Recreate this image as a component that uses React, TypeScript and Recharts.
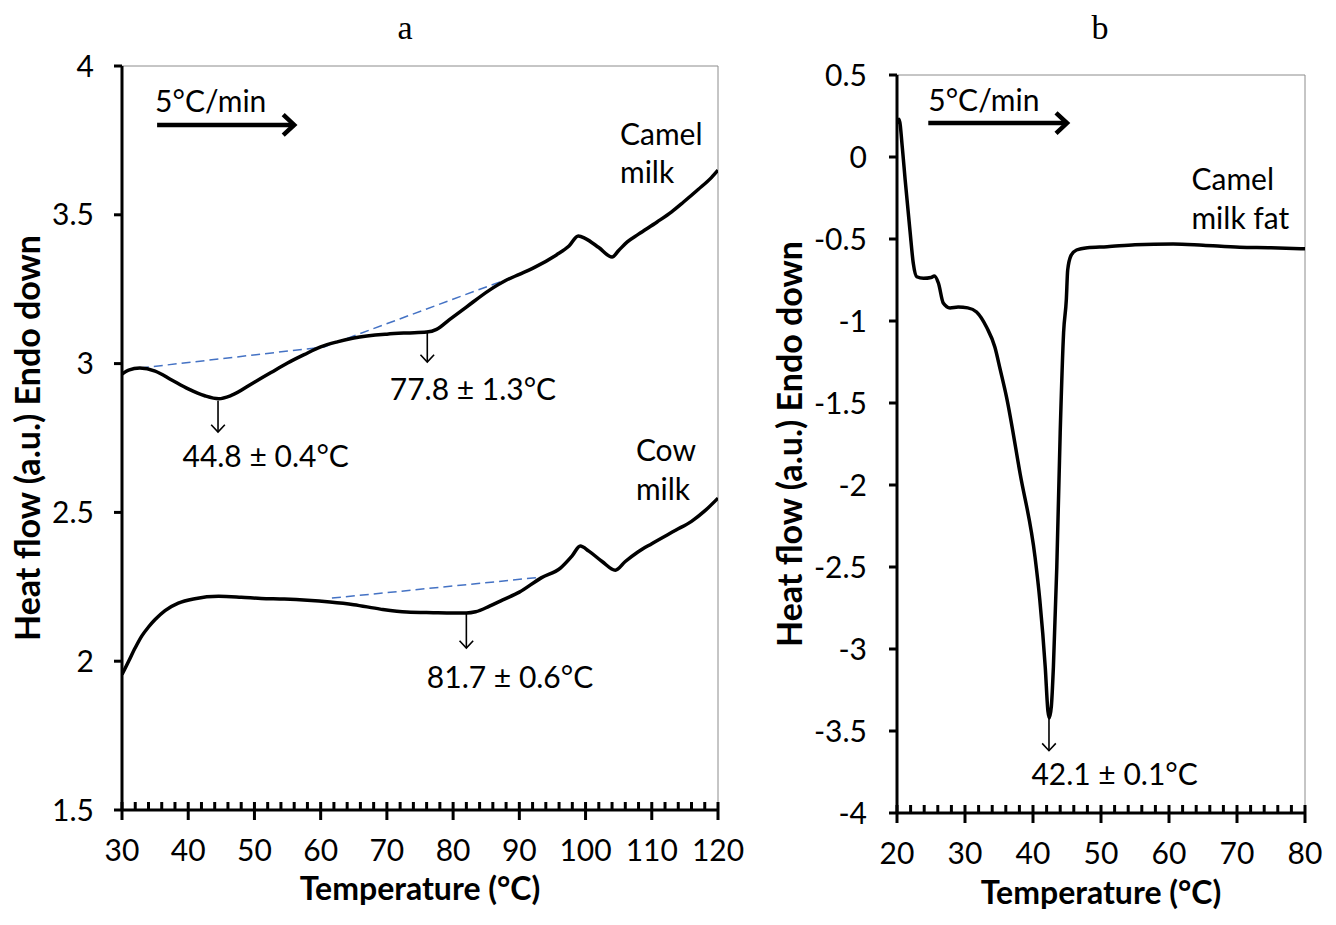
import { LineChart, Line, XAxis, YAxis, ReferenceLine, ReferenceDot } from 'recharts';

const FONT = "Lato, 'Open Sans', sans-serif";

// panel a: camel milk and cow milk (temperature °C, heat flow a.u.)
const camelTemp = [30, 31, 32.7, 35, 37.5, 40, 42.5, 44.6, 46.5, 49.8, 52.5, 55, 57.5, 60, 62.5, 65, 70, 73, 76, 77.5, 79.4, 82, 85.5, 88, 90, 92, 95.6, 97.5, 98.9, 100, 102, 104, 105, 106.3, 108, 110.8, 113, 114.8, 117, 119, 120];
const camelFlow = [2.965, 2.978, 2.985, 2.975, 2.945, 2.915, 2.892, 2.882, 2.893, 2.935, 2.97, 3.002, 3.03, 3.056, 3.073, 3.086, 3.099, 3.103, 3.106, 3.115, 3.147, 3.19, 3.247, 3.28, 3.3, 3.32, 3.365, 3.395, 3.429, 3.42, 3.39, 3.358, 3.38, 3.409, 3.435, 3.476, 3.51, 3.543, 3.585, 3.625, 3.65];

const cowTemp = [30, 31, 32, 33, 34, 35, 36.5, 38.5, 41, 44.6, 48, 51, 54.5, 58, 61.4, 65, 69, 73, 77, 80, 82, 83.4, 85.5, 87.5, 90, 93.3, 96.2, 98, 99.2, 100.5, 102.5, 104.5, 106, 107.9, 110, 113.6, 116, 118, 120];
const cowFlow = [1.955, 2.0, 2.045, 2.085, 2.115, 2.14, 2.17, 2.195, 2.21, 2.218, 2.215, 2.211, 2.209, 2.205, 2.199, 2.19, 2.175, 2.165, 2.163, 2.162, 2.162, 2.166, 2.185, 2.206, 2.232, 2.28, 2.313, 2.355, 2.387, 2.37, 2.335, 2.306, 2.335, 2.367, 2.395, 2.44, 2.47, 2.505, 2.548];

// dashed baselines
const camelBaseTemp = [32.7, 60.5, 89.3];
const camelBaseFlow = [2.985, 3.056, 3.293];
const cowBaseTemp = [61.7, 93.6];
const cowBaseFlow = [2.212, 2.283];

// panel b: camel milk fat
const fatTemp = [20.1, 20.3, 20.8, 21.2, 21.9, 22.4, 22.9, 23.9, 25, 25.5, 26.1, 26.8, 27.8, 29, 30.4, 31.7, 33.2, 34.4, 35.2, 36.1, 38.1, 40.3, 41, 41.8, 42.2, 42.4, 42.7, 43, 43.5, 44, 44.5, 44.9, 45.1, 45.6, 46.4, 48, 50.9, 55, 60.6, 65, 70.4, 75, 80];
const fatFlow = [0.2, 0.23, 0.05, -0.14, -0.445, -0.65, -0.73, -0.74, -0.735, -0.725, -0.77, -0.89, -0.92, -0.915, -0.92, -0.945, -1.04, -1.16, -1.3, -1.463, -1.93, -2.44, -2.7, -3.11, -3.38, -3.42, -3.35, -3.11, -2.5, -1.68, -1.07, -0.87, -0.69, -0.6, -0.567, -0.553, -0.547, -0.535, -0.53, -0.538, -0.55, -0.553, -0.56];

const aMajorTicks = [30, 40, 50, 60, 70, 80, 90, 100, 110, 120];
const aYTicks = [1.5, 2, 2.5, 3, 3.5, 4];
const bMajorTicks = [20, 30, 40, 50, 60, 70, 80];
const bYTicks = [-4, -3.5, -3, -2.5, -2, -1.5, -1, -0.5, 0, 0.5];

const zip = (xs: number[], ys: number[]) => xs.map((x, i) => ({ x, y: ys[i] }));

// major + minor (every 2 units) ticks
const withMinor = (major: number[]) => {
  const out: number[] = [];
  for (let v = major[0]; v <= major[major.length - 1]; v += 2) out.push(v);
  return out;
};

const makeXTick = (majors: number[]) => (props: any) => {
  const { x, y, payload } = props;
  const major = majors.includes(payload.value);
  return (
    <g>
      <line x1={x} x2={x} y1={y - 8} y2={major ? y + 10 : y} stroke="#000" strokeWidth={3} />
      {major && (
        <text x={x} y={y + 51} textAnchor="middle" fontSize={30} fontFamily={FONT} fill="#000">
          {payload.value}
        </text>
      )}
    </g>
  );
};

const arrow = (head: number, width: number) => (p: any) => {
  const { x1, y1, x2, y2 } = p;
  const ang = Math.atan2(y2 - y1, x2 - x1);
  const a = 0.75;
  const pts = [
    [x2 - head * Math.cos(ang - a), y2 - head * Math.sin(ang - a)],
    [x2, y2],
    [x2 - head * Math.cos(ang + a), y2 - head * Math.sin(ang + a)],
  ];
  return (
    <g>
      <line x1={x1} y1={y1} x2={x2} y2={y2} stroke="#000" strokeWidth={width} />
      <polyline points={pts.map((q) => q.join(',')).join(' ')} fill="none" stroke="#000" strokeWidth={width} />
    </g>
  );
};

const label = (text: string, anchor: 'start' | 'middle' = 'start') => (p: any) => (
  <text x={p.cx} y={p.cy} textAnchor={anchor} fontSize={30} fontFamily={FONT} fill="#000">
    {text}
  </text>
);

const yTickStyle = { fill: '#000', fontSize: 30, fontFamily: FONT };
const axisStyle = { stroke: '#000', strokeWidth: 3 };

export default function App() {
  return (
    <div style={{ position: 'absolute', left: 0, top: 0, width: 1336, height: 925, background: '#fff' }}>
      <div style={{ position: 'absolute', left: 0, top: 0 }}>
        <LineChart width={770} height={925} margin={{ top: 66, right: 52, bottom: 0, left: 0 }}>
          <XAxis
            type="number"
            dataKey="x"
            domain={[30, 120]}
            ticks={withMinor(aMajorTicks)}
            interval={0}
            tickSize={0}
            tickMargin={0}
            tickLine={false}
            axisLine={axisStyle}
            tick={makeXTick(aMajorTicks)}
            height={115}
            allowDataOverflow
          />
          <YAxis
            type="number"
            domain={[1.5, 4]}
            ticks={aYTicks}
            interval={0}
            width={122}
            tickSize={8}
            tickMargin={20}
            tickLine={axisStyle}
            axisLine={axisStyle}
            tick={yTickStyle}
            allowDataOverflow
          />
          <ReferenceLine y={4} stroke="#8c8c8c" strokeWidth={1} />
          <ReferenceLine x={120} stroke="#8c8c8c" strokeWidth={1} />
          <Line data={zip(camelBaseTemp, camelBaseFlow)} dataKey="y" type="linear" stroke="#4472C4" strokeWidth={1.5} strokeDasharray="9 5" dot={false} activeDot={false} isAnimationActive={false} />
          <Line data={zip(cowBaseTemp, cowBaseFlow)} dataKey="y" type="linear" stroke="#4472C4" strokeWidth={1.5} strokeDasharray="9 5" dot={false} activeDot={false} isAnimationActive={false} />
          <Line data={zip(camelTemp, camelFlow)} dataKey="y" type="monotone" stroke="#000" strokeWidth={3.5} dot={false} activeDot={false} isAnimationActive={false} />
          <Line data={zip(cowTemp, cowFlow)} dataKey="y" type="monotone" stroke="#000" strokeWidth={3.5} dot={false} activeDot={false} isAnimationActive={false} />
          <ReferenceLine segment={[{ x: 35.3, y: 3.802 }, { x: 56, y: 3.802 }]} shape={arrow(15, 4.5)} />
          <ReferenceLine segment={[{ x: 44.5, y: 2.875 }, { x: 44.5, y: 2.77 }]} shape={arrow(10, 1.6)} />
          <ReferenceLine segment={[{ x: 76.1, y: 3.103 }, { x: 76.1, y: 3.005 }]} shape={arrow(10, 1.6)} />
          <ReferenceLine segment={[{ x: 82, y: 2.159 }, { x: 82, y: 2.044 }]} shape={arrow(10, 1.6)} />
          <ReferenceDot x={35} y={3.845} shape={label('5°C/min')} />
          <ReferenceDot x={51.7} y={2.653} shape={label('44.8 ± 0.4°C', 'middle')} />
          <ReferenceDot x={83} y={2.878} shape={label('77.8 ± 1.3°C', 'middle')} />
          <ReferenceDot x={88.6} y={1.91} shape={label('81.7 ± 0.6°C', 'middle')} />
          <ReferenceDot x={105.2} y={3.735} shape={label('Camel')} />
          <ReferenceDot x={105.2} y={3.607} shape={label('milk')} />
          <ReferenceDot x={107.6} y={2.673} shape={label('Cow')} />
          <ReferenceDot x={107.6} y={2.542} shape={label('milk')} />
        </LineChart>
      </div>
      <div style={{ position: 'absolute', left: 740, top: 0 }}>
        <LineChart width={596} height={925} margin={{ top: 75, right: 31, bottom: 0, left: 0 }}>
          <XAxis
            type="number"
            dataKey="x"
            domain={[20, 80]}
            ticks={withMinor(bMajorTicks)}
            interval={0}
            tickSize={0}
            tickMargin={0}
            tickLine={false}
            axisLine={axisStyle}
            tick={makeXTick(bMajorTicks)}
            height={112}
            allowDataOverflow
          />
          <YAxis
            type="number"
            domain={[-4, 0.5]}
            ticks={bYTicks}
            interval={0}
            width={157}
            tickSize={8}
            tickMargin={22}
            tickLine={axisStyle}
            axisLine={axisStyle}
            tick={yTickStyle}
            allowDataOverflow
          />
          <ReferenceLine y={0.5} stroke="#8c8c8c" strokeWidth={1} />
          <ReferenceLine x={80} stroke="#8c8c8c" strokeWidth={1} />
          <Line data={zip(fatTemp, fatFlow)} dataKey="y" type="monotone" stroke="#000" strokeWidth={3.5} dot={false} activeDot={false} isAnimationActive={false} />
          <ReferenceLine segment={[{ x: 24.6, y: 0.207 }, { x: 45, y: 0.207 }]} shape={arrow(15, 4.5)} />
          <ReferenceLine segment={[{ x: 42.35, y: -3.42 }, { x: 42.35, y: -3.62 }]} shape={arrow(10, 1.6)} />
          <ReferenceDot x={24.6} y={0.28} shape={label('5°C/min')} />
          <ReferenceDot x={52} y={-3.83} shape={label('42.1 ± 0.1°C', 'middle')} />
          <ReferenceDot x={63.3} y={-0.2} shape={label('Camel')} />
          <ReferenceDot x={63.3} y={-0.438} shape={label('milk fat')} />
        </LineChart>
      </div>
      <svg width={1336} height={925} style={{ position: 'absolute', left: 0, top: 0, pointerEvents: 'none' }}>
        <text x={405} y={39} textAnchor="middle" fontSize={34} fontFamily="'Liberation Serif', serif">a</text>
        <text x={1100} y={39} textAnchor="middle" fontSize={34} fontFamily="'Liberation Serif', serif">b</text>
        <text x={420} y={900} textAnchor="middle" fontSize={32} fontWeight="bold" fontFamily={FONT}>Temperature (°C)</text>
        <text x={1101} y={904} textAnchor="middle" fontSize={32} fontWeight="bold" fontFamily={FONT}>Temperature (°C)</text>
        <text transform="translate(40,438) rotate(-90)" textAnchor="middle" fontSize={34} fontWeight="bold" fontFamily={FONT}>Heat flow (a.u.) Endo down</text>
        <text transform="translate(802,444) rotate(-90)" textAnchor="middle" fontSize={34} fontWeight="bold" fontFamily={FONT}>Heat flow (a.u.) Endo down</text>
      </svg>
    </div>
  );
}
